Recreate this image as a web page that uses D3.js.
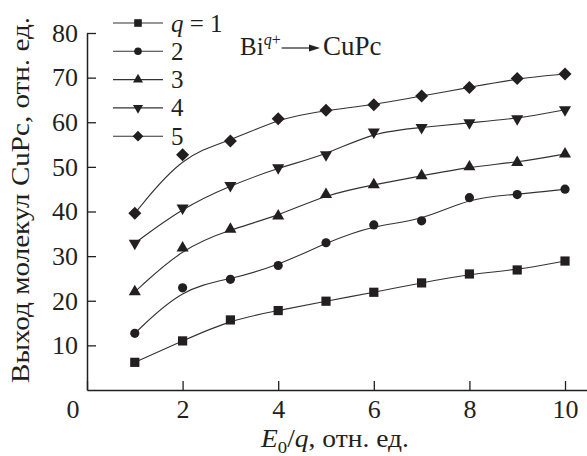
<!DOCTYPE html>
<html>
<head>
<meta charset="utf-8">
<script src="https://cdn.jsdelivr.net/npm/d3@7"></script>
<style>
	body { margin: 0; background: #fff; }
	svg { display: block; }
	svg text { font-family: 'Liberation Serif', serif; }
</style>
</head>
<body>
<svg width="587" height="456"></svg>
<script>
const X_VALUES = [1, 2, 3, 4, 5, 6, 7, 8, 9, 10];
const Q_LABELS = ['1', '2', '3', '4', '5'];
const YIELD_Q1 = [6.2, 11.0, 15.7, 17.8, 19.9, 21.9, 24.0, 26.0, 26.9, 28.9];
const YIELD_Q2 = [12.7, 22.9, 24.8, 27.9, 33.0, 37.0, 37.9, 43.1, 43.8, 45.0];
const YIELD_Q3 = [22.0, 31.8, 36.0, 39.0, 43.8, 46.0, 48.0, 50.0, 51.0, 52.9];
const YIELD_Q4 = [32.9, 40.8, 45.8, 49.8, 52.7, 57.8, 58.8, 59.9, 60.8, 62.8];
const YIELD_Q5 = [39.6, 52.7, 55.8, 60.8, 62.7, 63.9, 65.9, 67.8, 69.8, 70.8];
const MARKERS = ['square', 'circle', 'up', 'down', 'diamond'];
const X_TICKS = [0, 2, 4, 6, 8, 10];
const Y_TICKS = [10, 20, 30, 40, 50, 60, 70, 80];

const INK = '#231f20';
const SERIF = "'Liberation Serif', serif";
const TICK_SIZE = 26;
const FONT_SIZE = 25;

let svg = d3.select('svg');

let x = d3.scaleLinear().domain([0, 10.46]).range([87, 587]);
let y = d3.scaleLinear().domain([0, 80]).range([390, 33]);

/**
 * draws one marker shape at (0,0) inside the given group
 */
const drawMarker = (g, type, s) => {
	if (type === 'square') {
		g.append('rect').attr('x', -4 * s).attr('y', -4 * s).attr('width', 8 * s).attr('height', 8 * s).attr('fill', INK);
	} else if (type === 'circle') {
		g.append('circle').attr('r', 4 * s).attr('fill', INK);
	} else if (type === 'up') {
		g.append('path').attr('d', d3.symbol(d3.symbolTriangle, 48 * s * s)()).attr('fill', INK);
	} else if (type === 'down') {
		g.append('path').attr('d', d3.symbol(d3.symbolTriangle, 48 * s * s)()).attr('transform', 'rotate(180)').attr('fill', INK);
	} else {
		g.append('rect').attr('x', -4 * s).attr('y', -4 * s).attr('width', 8 * s).attr('height', 8 * s)
			.attr('transform', 'rotate(45)').attr('fill', INK);
	}
};

// axes
let xAxis = svg.append('g')
	.attr('transform', 'translate(0,' + y(0) + ')')
	.call(d3.axisBottom(x).tickValues(X_TICKS).tickSizeInner(-9).tickSizeOuter(0).tickPadding(10).tickFormat(d3.format('d')));
xAxis.attr('font-family', null).attr('font-size', null);
xAxis.select('.domain').attr('stroke', INK).attr('stroke-width', 1.5);
xAxis.selectAll('.tick line').attr('stroke', INK).attr('stroke-width', 1.3);
xAxis.selectAll('.tick text')
	.attr('font-size', TICK_SIZE)
	.attr('dx', (d) => d === 0 ? -14.5 : 0);

let yAxis = svg.append('g')
	.attr('transform', 'translate(' + x(0) + ',0)')
	.call(d3.axisLeft(y).tickValues(Y_TICKS).tickSizeInner(-9).tickSizeOuter(0).tickPadding(9));
yAxis.attr('font-family', null).attr('font-size', null);
yAxis.select('.domain').attr('stroke', INK).attr('stroke-width', 1.5);
yAxis.selectAll('.tick line').attr('stroke', INK).attr('stroke-width', 1.3);
yAxis.selectAll('.tick text').attr('font-size', TICK_SIZE);

// axis titles
let xTitle = svg.append('text')
	.attr('x', 335).attr('y', 447)
	.attr('text-anchor', 'middle')
	.attr('font-size', FONT_SIZE)
	.attr('textLength', 148)
	.attr('lengthAdjust', 'spacingAndGlyphs');
xTitle.append('tspan').attr('font-style', 'italic').text('E');
xTitle.append('tspan').attr('font-size', 17).attr('dy', 6).text('0');
xTitle.append('tspan').attr('dy', -6).text('/');
xTitle.append('tspan').attr('font-style', 'italic').text('q');
xTitle.append('tspan').text(', отн. ед.');

svg.append('text')
	.attr('transform', 'translate(29,200) rotate(-90)')
	.attr('text-anchor', 'middle')
	.attr('font-size', FONT_SIZE)
	.attr('textLength', 366)
	.attr('lengthAdjust', 'spacingAndGlyphs')
	.text('Выход молекул CuPc, отн. ед.');

// curves and markers
let seriesData = [YIELD_Q1, YIELD_Q2, YIELD_Q3, YIELD_Q4, YIELD_Q5];
let line = d3.line()
	.x((d, i) => x(X_VALUES[i]))
	.y((d) => y(d))
	.curve(d3.curveBasis);

seriesData.forEach((values, k) => {
	svg.append('path')
		.attr('d', line(values))
		.attr('fill', 'none')
		.attr('stroke', '#333')
		.attr('stroke-width', 1.1);

	values.forEach((v, i) => {
		let m = svg.append('g').attr('transform', 'translate(' + x(X_VALUES[i]) + ',' + y(v) + ')');
		drawMarker(m, MARKERS[k], 1.15);
	});
});

// legend
Q_LABELS.forEach((label, k) => {
	let row = svg.append('g').attr('transform', 'translate(0,' + (23 + k * 28.3) + ')');
	row.append('line').attr('x1', 113).attr('x2', 163).attr('stroke', '#333').attr('stroke-width', 1.1);
	drawMarker(row.append('g').attr('transform', 'translate(138,0)'), MARKERS[k], 0.95);
	let t = row.append('text').attr('x', 171).attr('y', 8.5).attr('font-size', FONT_SIZE);
	if (k === 0) {
		t.append('tspan').attr('font-style', 'italic').text('q');
		t.append('tspan').text(' = ' + label);
	} else {
		t.text(label);
	}
});

// reaction annotation
let bi = svg.append('text').attr('x', 240).attr('y', 55).attr('font-size', FONT_SIZE).style('font-family', SERIF);
bi.append('tspan').text('Bi');
bi.append('tspan').attr('font-size', 16).attr('dy', -10).attr('font-style', 'italic').text('q');
bi.append('tspan').attr('font-size', 16).text('+');
let biEnd = 240 + bi.node().getComputedTextLength();
svg.append('line')
	.attr('x1', biEnd + 1).attr('x2', 312)
	.attr('y1', 48).attr('y2', 48)
	.attr('stroke', INK).attr('stroke-width', 1.2);
svg.append('path')
	.attr('d', 'M309,44.5 L320,48 L309,51.5 Z')
	.attr('fill', INK);
svg.append('text').attr('x', 323).attr('y', 55).attr('font-size', 27).text('CuPc');

// every text in the same serif face
svg.selectAll('text').style('font-family', SERIF).style('fill', INK);
</script>
</body>
</html>
